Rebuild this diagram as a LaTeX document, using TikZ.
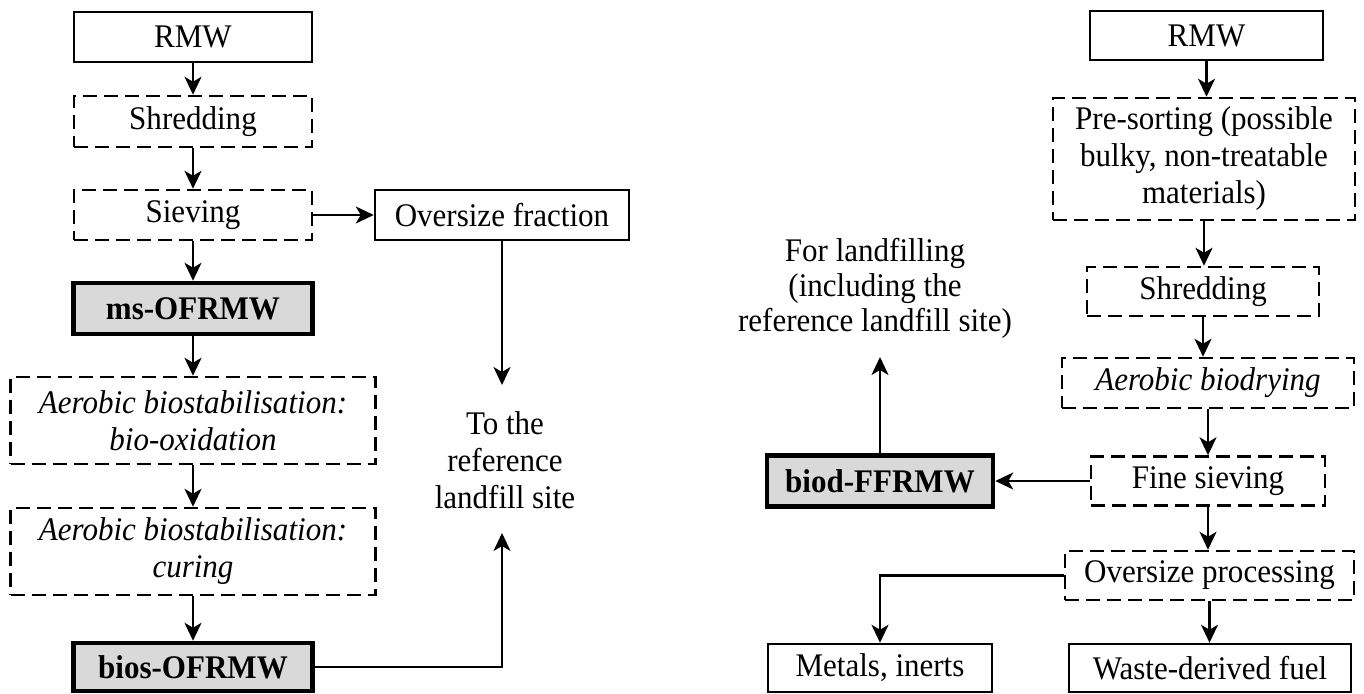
\documentclass[tikz,border=0pt]{standalone}
\usepackage{fontspec}
\setmainfont{Liberation Serif}[FakeStretch=0.94]
\usetikzlibrary{arrows.meta}
\definecolor{boxgray}{HTML}{D9D9D9}
\newcommand\dfont{\fontsize{33}{37}\selectfont}
\tikzset{
  base/.style={draw, line width=2.5pt, inner sep=0pt, align=center, font=\dfont},
  sbox/.style={base},
  dbox/.style={base, dash pattern=on 14pt off 7pt},
  tbox/.style={base, line width=4.5pt, fill=boxgray, font=\dfont\bfseries},
  txt/.style={align=center, inner sep=0pt, font=\dfont},
  arr/.style={line width=2.2pt, -{Stealth[length=18pt,width=17pt,inset=5pt]}}
}
\begin{document}
\begin{tikzpicture}[x=1pt,y=-1pt]
\useasboundingbox (0,0) rectangle (1364,693);
% ---------- left panel ----------
\node[sbox, minimum width=238pt, minimum height=50pt] (lrmw) at (193,37) {RMW};
\node[dbox, minimum width=238pt, minimum height=51pt] (lshr) at (193,121.5) {Shredding};
\node[dbox, minimum width=238pt, minimum height=50pt] (lsie) at (193,215) {Sieving};
\node[sbox, minimum width=254pt, minimum height=50pt] (over) at (502,215) {Oversize fraction};
\node[tbox, minimum width=239pt, minimum height=51pt] (ms) at (193,308.5) {ms-OFRMW};
\node[dbox, minimum width=365pt, minimum height=87pt] (biox) at (193,420.5) {\itshape Aerobic biostabilisation:\\\itshape bio-oxidation};
\node[dbox, minimum width=365pt, minimum height=87pt] (cur) at (193,551.5) {\itshape Aerobic biostabilisation:\\\itshape curing};
\node[tbox, minimum width=239pt, minimum height=48pt] (bios) at (193,667) {bios-OFRMW};
\node[txt] (landtxt) at (505,460) {To the\\reference\\landfill site};
\coordinate (ta) at (502,385);
\coordinate (tb) at (502,533);

\draw[arr] (lrmw) -- (lshr);
\draw[arr] (lshr) -- (lsie);
\draw[arr] (lsie) -- (over);
\draw[arr] (lsie) -- (ms);
\draw[arr] (ms) -- (biox);
\draw[arr] (biox) -- (cur);
\draw[arr] (cur) -- (bios);
\draw[arr] (over.south) -- (ta);
\draw[arr] (bios.east) -| (tb);

% ---------- right panel ----------
\node[sbox, minimum width=233pt, minimum height=49pt] (rrmw) at (1206.5,35.5) {RMW};
\node[dbox, minimum width=302pt, minimum height=122pt] (pres) at (1204,159) {Pre-sorting (possible\\bulky, non-treatable\\materials)};
\node[dbox, minimum width=232pt, minimum height=49pt] (rshr) at (1203,291.5) {Shredding};
\node[dbox, minimum width=292pt, minimum height=50pt] (bdry) at (1208,383) {\itshape Aerobic biodrying};
\node[dbox, minimum width=234pt, minimum height=49pt] (fsie) at (1208,481) {Fine sieving};
\node[tbox, minimum width=226pt, minimum height=51pt] (biod) at (880,481) {biod-FFRMW};
\node[dbox, minimum width=289pt, minimum height=49pt] (ovp) at (1209.5,575.5) {Oversize processing};
\node[sbox, minimum width=224pt, minimum height=48pt] (met) at (880,668) {Metals, inerts};
\node[sbox, minimum width=282pt, minimum height=48pt] (wdf) at (1210,668) {Waste-derived fuel};
\node[txt, font=\fontsize{33}{35}\selectfont] (fltxt) at (875,288) {For landfilling\\(including the\\reference landfill site)};
\coordinate (fl) at (880,357);

\draw[arr] (rrmw.south) -- (rrmw.south |- pres.north);
\draw[arr] (pres.south) -- (pres.south |- rshr.north);
\draw[arr] (rshr.south) -- (rshr.south |- bdry.north);
\draw[arr] (bdry.south) -- (bdry.south |- fsie.north);
\draw[arr] (fsie.south) -- (fsie.south |- ovp.north);
\draw[arr] (ovp.south) -- (ovp.south |- wdf.north);
\draw[arr] (fsie.west) -- (biod.east);
\draw[arr] (biod.north) -- (fl);
\draw[arr] (ovp.west) -| (met.north);
\end{tikzpicture}
\end{document}
